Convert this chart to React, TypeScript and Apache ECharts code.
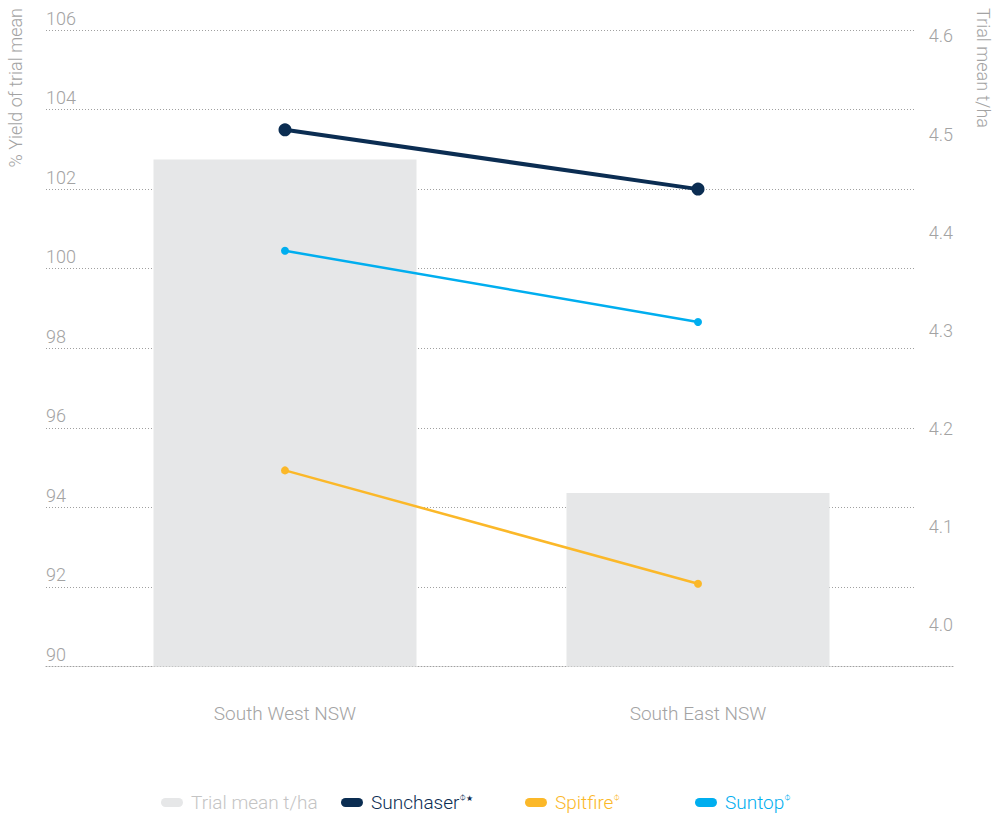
import React, { useEffect, useRef } from "react";
import * as echarts from "echarts";

const categories = ["South West NSW", "South East NSW"];
const trialMean = [4.474, 4.134];
const sunchaser = [103.49, 102.0];
const spitfire = [94.93, 92.08];
const suntop = [100.45, 98.66];
const rightTickLabels = [4.0, 4.1, 4.2, 4.3, 4.4, 4.5, 4.6];

const leftMin = 90;
const leftMax = 106;
const leftInterval = 2;
const rightMin = 3.957;
const rightMax = 4.6061;

const FONT = "Roboto, 'Noto Sans', sans-serif";
const GREY = "#a3a3a3";
const GRID_DOT = "#a0a0a0";
const C_SUNCHASER = "#0b2d52";
const C_SPITFIRE = "#fbb829";
const C_SUNTOP = "#00aeef";
const C_BAR = "#e6e7e8";

const PILL = "path://M4.5,0 L17.5,0 A4.5,4.5 0 0 1 17.5,9 L4.5,9 A4.5,4.5 0 0 1 4.5,0 Z";

export default function App() {
  const ref = useRef<HTMLDivElement>(null);
  useEffect(() => {
    if (!ref.current) return;
    const chart = echarts.init(ref.current, undefined, { renderer: "svg" });
    const dotted = { type: [1, 2] as any, color: GRID_DOT, width: 1 };
    const legendBase = (name: string, left: number, color: string, formatter?: string) => ({
      data: [name],
      left,
      top: 793,
      icon: PILL,
      itemWidth: 22,
      itemHeight: 9,
      padding: 0,
      selectedMode: false,
      formatter: formatter ?? "{name}",
      textStyle: {
        color,
        fontSize: 19,
        lineHeight: 16,
        fontWeight: 300,
        fontFamily: FONT,
        padding: [0, 0, 0, 3],
        rich: {
          sup: { fontSize: 8, lineHeight: 8, color, verticalAlign: "top", fontFamily: "DejaVu Sans" },
        },
      },
    });
    const option: any = {
      animation: false,
      backgroundColor: "#ffffff",
      textStyle: { fontFamily: FONT },
      grid: [
        { left: 46, right: 88, top: 30, bottom: 146.5 },
        { left: 46, right: 48, top: 30, bottom: 146.5 },
        { left: 78.5, right: 98.5, top: 30, bottom: 146.5 },
      ],
      xAxis: [
        { gridIndex: 0, type: "value", show: false },
        {
          gridIndex: 1,
          type: "value",
          min: 0,
          max: 1,
          axisLine: { show: true, onZero: false, lineStyle: dotted },
          axisTick: { show: false },
          axisLabel: { show: false },
          splitLine: { show: false },
        },
        {
          gridIndex: 2,
          type: "category",
          data: categories,
          axisLine: { show: false },
          axisTick: { show: false },
          axisLabel: { margin: 37, color: GREY, fontSize: 19, fontWeight: 300, fontFamily: FONT },
          splitLine: { show: false },
        },
      ],
      yAxis: [
        {
          gridIndex: 0,
          type: "value",
          min: leftMin,
          max: leftMax,
          interval: leftInterval,
          position: "left",
          axisLine: { show: false },
          axisTick: { show: false },
          splitLine: { show: true, showMinLine: false, lineStyle: dotted },
          axisLabel: {
            inside: true,
            margin: 0,
            verticalAlign: "bottom",
            padding: [0, 0, 3, 0],
            color: GREY,
            fontSize: 18,
            fontWeight: 300,
            fontFamily: FONT,
          },
        },
        {
          gridIndex: 1,
          type: "value",
          min: rightMin,
          max: rightMax,
          position: "right",
          axisLine: { show: false },
          axisTick: { show: false },
          splitLine: { show: false },
          axisLabel: {
            inside: true,
            margin: 2,
            customValues: rightTickLabels,
            formatter: (v: number) => v.toFixed(1),
            color: GREY,
            fontSize: 18,
            fontWeight: 300,
            fontFamily: FONT,
          },
        },
        { gridIndex: 2, type: "value", min: leftMin, max: leftMax, show: false, splitLine: { show: false } },
        { gridIndex: 2, type: "value", min: rightMin, max: rightMax, show: false, position: "right", splitLine: { show: false } },
      ],
      legend: [
        legendBase("Trial mean t/ha", 161, "#c4c4c4"),
        legendBase("Sunchaser", 341, C_SUNCHASER, "{name}{sup|Φ★}"),
        legendBase("Spitfire", 525, C_SPITFIRE, "{name}{sup|Φ}"),
        legendBase("Suntop", 695, C_SUNTOP, "{name}{sup|Φ}"),
      ],
      series: [
        {
          name: "Trial mean t/ha",
          type: "bar",
          xAxisIndex: 2,
          yAxisIndex: 3,
          data: trialMean,
          barWidth: 263,
          itemStyle: { color: C_BAR },
          z: 1,
        },
        {
          name: "Sunchaser",
          type: "line",
          xAxisIndex: 2,
          yAxisIndex: 2,
          data: sunchaser,
          symbol: "circle",
          symbolSize: 13,
          lineStyle: { width: 4, color: C_SUNCHASER },
          itemStyle: { color: C_SUNCHASER },
          z: 5,
        },
        {
          name: "Spitfire",
          type: "line",
          xAxisIndex: 2,
          yAxisIndex: 2,
          data: spitfire,
          symbol: "circle",
          symbolSize: 8,
          lineStyle: { width: 2.5, color: C_SPITFIRE },
          itemStyle: { color: C_SPITFIRE },
          z: 5,
        },
        {
          name: "Suntop",
          type: "line",
          xAxisIndex: 2,
          yAxisIndex: 2,
          data: suntop,
          symbol: "circle",
          symbolSize: 8,
          lineStyle: { width: 2.5, color: C_SUNTOP },
          itemStyle: { color: C_SUNTOP },
          z: 5,
        },
      ],
      graphic: [
        {
          type: "text",
          x: 15,
          y: 8,
          rotation: Math.PI / 2,
          style: {
            text: "% Yield of trial mean",
            align: "right",
            verticalAlign: "middle",
            fill: GREY,
            fontSize: 18,
            fontWeight: 300,
            fontFamily: FONT,
          },
        },
        {
          type: "text",
          x: 983,
          y: 8,
          rotation: -Math.PI / 2,
          style: {
            text: "Trial mean t/ha",
            align: "left",
            verticalAlign: "middle",
            fill: GREY,
            fontSize: 18,
            fontWeight: 300,
            fontFamily: FONT,
          },
        },
      ],
    };
    chart.setOption(option);
    return () => chart.dispose();
  }, []);
  return (
    <div
      ref={ref}
      style={{ position: "absolute", left: 0, top: 0, width: 1003, height: 813, background: "#fff" }}
    />
  );
}
